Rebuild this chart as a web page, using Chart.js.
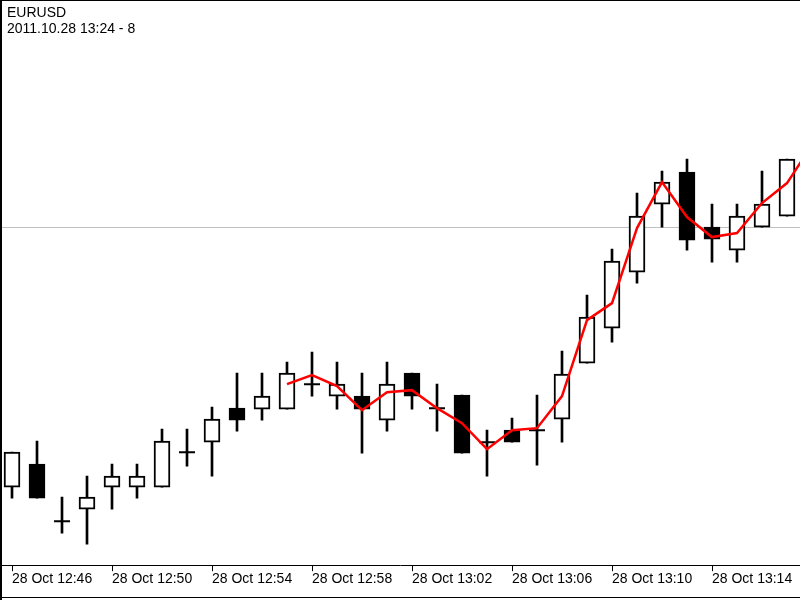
<!doctype html>
<html lang="en">

<head>
    <meta charset="utf-8">
    <title>EURUSD M1</title>
    <style>
        body { margin: 0; background: #fff; }
    </style>
</head>

<body>
    <canvas id="myChart" width="800" height="600"></canvas>

    <script src="https://cdn.jsdelivr.net/npm/chart.js"></script>
    <script>
        // setup
        const symbol = 'EURUSD';
        const subtitle = '2011.10.28 13:24 - 8';

        const times = ['12:46', '12:47', '12:48', '12:49', '12:50', '12:51', '12:52', '12:53',
            '12:54', '12:55', '12:56', '12:57', '12:58', '12:59', '13:00', '13:01',
            '13:02', '13:03', '13:04', '13:05', '13:06', '13:07', '13:08', '13:09',
            '13:10', '13:11', '13:12', '13:13', '13:14', '13:15', '13:16', '13:17', '13:18'];
        const tickLabels = ['28 Oct 12:46', '28 Oct 12:50', '28 Oct 12:54', '28 Oct 12:58',
            '28 Oct 13:02', '28 Oct 13:06', '28 Oct 13:10', '28 Oct 13:14'];

        const open = [1.41513, 1.41536, 1.41479, 1.41491, 1.41513, 1.41513, 1.41513, 1.41548,
            1.41558, 1.41592, 1.41591, 1.41591, 1.41616, 1.41604, 1.41604, 1.41580,
            1.41627, 1.41592, 1.41605, 1.41558, 1.41570, 1.41570, 1.41581, 1.41637,
            1.41672, 1.41728, 1.41796, 1.41828, 1.41773, 1.41750, 1.41773, 1.41784];
        const high = [1.41548, 1.41559, 1.41503, 1.41524, 1.41536, 1.41536, 1.41571, 1.41571,
            1.41593, 1.41627, 1.41627, 1.41638, 1.41648, 1.41638, 1.41627, 1.41638,
            1.41627, 1.41616, 1.41605, 1.41570, 1.41582, 1.41605, 1.41649, 1.41705,
            1.41751, 1.41807, 1.41829, 1.41841, 1.41796, 1.41796, 1.41829, 1.41841];
        const low = [1.41502, 1.41502, 1.41467, 1.41456, 1.41491, 1.41502, 1.41513, 1.41534,
            1.41524, 1.41569, 1.41580, 1.41591, 1.41604, 1.41591, 1.41547, 1.41569,
            1.41591, 1.41569, 1.41547, 1.41524, 1.41558, 1.41535, 1.41558, 1.41637,
            1.41658, 1.41717, 1.41773, 1.41750, 1.41738, 1.41738, 1.41773, 1.41784];
        const close = [1.41548, 1.41502, 1.41479, 1.41503, 1.41524, 1.41524, 1.41559, 1.41548,
            1.41581, 1.41580, 1.41604, 1.41627, 1.41616, 1.41616, 1.41591, 1.41616,
            1.41604, 1.41592, 1.41547, 1.41558, 1.41558, 1.41570, 1.41626, 1.41683,
            1.41739, 1.41784, 1.41818, 1.41760, 1.41761, 1.41784, 1.41796, 1.41841];
        // moving average (red line), starts at 12:57
        const ma = [null, null, null, null, null, null, null, null,
            null, null, null, 1.41616, 1.41625, 1.41614, 1.41590, 1.41608,
            1.41610, 1.41592, 1.41577, 1.41551, 1.41570, 1.41572, 1.41604, 1.41680,
            1.41697, 1.41772, 1.41818, 1.41783, 1.41763, 1.41767, 1.41797, 1.41817, 1.41855];
        const priceLine = 1.41773;

        const wicks = open.map((v, i) => ({ x: i, y: [low[i], high[i]] }));
        const bodies = open.map((v, i) => ({ x: i, y: v === close[i] ? null : [v, close[i]] }));
        const dojis = open.map((v, i) => ({ x: i, y: v === close[i] ? v : null }));
        const bodyColors = open.map((v, i) => close[i] < v ? '#000' : '#fff');

        const data = {
            datasets: [{
                type: 'line',
                label: 'MA',
                data: ma.map((v, i) => ({ x: i, y: v })),
                borderColor: '#ff0000',
                borderWidth: 2.5,
                pointRadius: 0,
                tension: 0,
                order: 0
            }, {
                type: 'line',
                label: 'doji',
                data: dojis,
                showLine: false,
                pointStyle: 'line',
                pointRadius: 8,
                pointBorderWidth: 2,
                borderColor: '#000',
                order: 1
            }, {
                type: 'bar',
                label: 'body',
                data: bodies,
                backgroundColor: bodyColors,
                borderColor: '#000',
                borderWidth: 2,
                borderSkipped: false,
                barThickness: 16,
                grouped: false,
                order: 2
            }, {
                type: 'bar',
                label: 'wick',
                data: wicks,
                backgroundColor: '#000',
                borderWidth: 0,
                barThickness: 2,
                grouped: false,
                order: 3
            }]
        };

        const frame = {
            id: 'frame',
            beforeDatasetsDraw: (chart) => {
                const { ctx, chartArea, scales: { y } } = chart;
                const py = Math.round(y.getPixelForValue(priceLine)) + 0.5;
                ctx.save();
                ctx.strokeStyle = '#c0c0c0';
                ctx.lineWidth = 1;
                ctx.beginPath();
                ctx.moveTo(chartArea.left, py);
                ctx.lineTo(chartArea.right, py);
                ctx.stroke();
                ctx.restore();
            },
            afterDraw: (chart) => {
                const ctx = chart.ctx;
                ctx.save();
                ctx.fillStyle = '#000';
                ctx.fillRect(0, 0, 2, 600);
                ctx.fillRect(0, 0, 800, 1);
                ctx.fillRect(0, 597, 800, 1);
                ctx.font = '14px "Liberation Sans"';
                ctx.textBaseline = 'alphabetic';
                ctx.fillText(symbol, 7, 17);
                ctx.fillText(subtitle, 7, 33);
                ctx.restore();
            }
        };

        // config
        const config = {
            type: 'bar',
            data,
            plugins: [frame],
            options: {
                responsive: false,
                animation: false,
                layout: { autoPadding: false, padding: { top: 0, left: 0, right: 0, bottom: 12 } },
                plugins: {
                    legend: { display: false },
                    tooltip: { enabled: false }
                },
                scales: {
                    x: {
                        type: 'linear',
                        min: -0.48,
                        max: 31.52,
                        offset: false,
                        afterBuildTicks: (axis) => {
                            axis.ticks = tickLabels.map((t, i) => ({ value: i * 4 }));
                        },
                        grid: { drawOnChartArea: false, drawTicks: true, tickLength: 6, color: '#000', offset: false },
                        border: { display: true, color: '#000', width: 1 },
                        ticks: {
                            align: 'start',
                            padding: 0,
                            maxRotation: 0,
                            autoSkip: false,
                            color: '#000',
                            font: { family: 'Liberation Sans', size: 14 },
                            callback: (value) => tickLabels[value / 4]
                        }
                    },
                    y: {
                        display: false,
                        min: 1.41435,
                        max: 1.42000
                    }
                }
            }
        };

        // render init block
        const myChart = new Chart(document.getElementById('myChart'), config);
    </script>
</body>

</html>
